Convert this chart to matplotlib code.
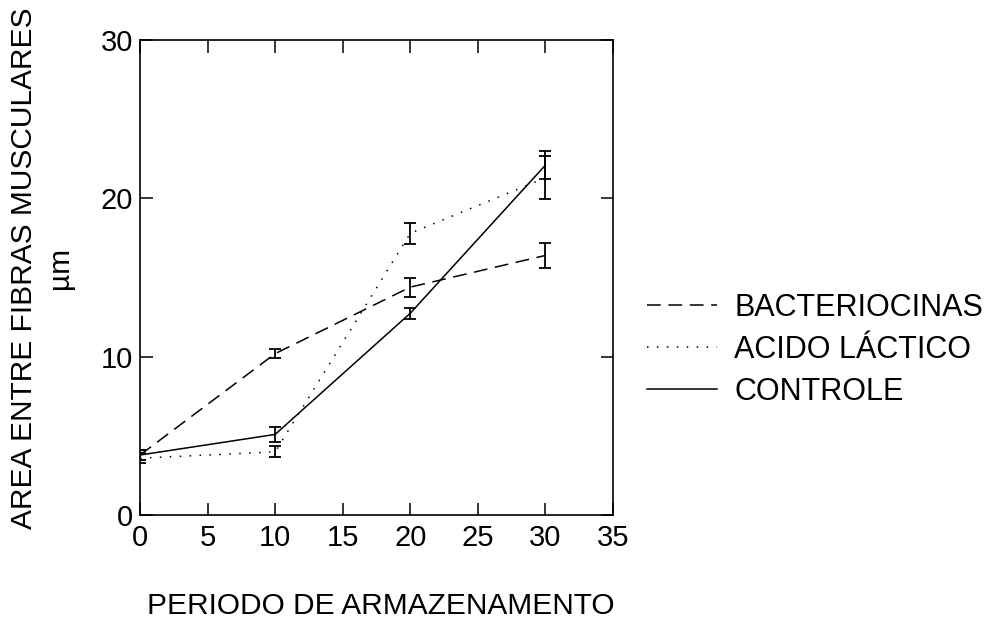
import numpy as np
import matplotlib.pyplot as plt

plt.rcParams['font.family'] = ['Liberation Sans', 'DejaVu Sans']

# storage period (days)
dias = [0, 10, 20, 30]

# area between muscle fibres (um), mean and error
bacteriocinas = [3.8, 10.2, 14.4, 16.4]
bacteriocinas_err = [0.3, 0.3, 0.6, 0.8]
acido_lactico = [3.6, 4.0, 17.8, 21.3]
acido_lactico_err = [0.3, 0.35, 0.65, 1.35]
controle = [3.8, 5.1, 12.75, 22.1]
controle_err = [0.3, 0.45, 0.35, 0.9]

labels = ['BACTERIOCINAS', 'ACIDO LÁCTICO', 'CONTROLE']

fig = plt.figure(figsize=(9.88, 6.26), dpi=100)
ax = fig.add_axes([0.1417, 0.177, 0.4787, 0.759])

styles = [(0, (9, 5)), (0, (1, 5.5)), '-']
series = [(bacteriocinas, bacteriocinas_err), (acido_lactico, acido_lactico_err),
          (controle, controle_err)]

handles = []
for (vals, err), ls, lab in zip(series, styles, labels):
    ax.errorbar(dias, vals, yerr=err, fmt='none', ecolor='black',
                elinewidth=1.3, capsize=4.5, capthick=1.3)
    h, = ax.plot(dias, vals, color='black', linestyle=ls, linewidth=1.1, label=lab)
    handles.append(h)

ax.set_xlim(0, 35)
ax.set_ylim(0, 30)
ax.set_xticks(np.arange(0, 36, 5))
ax.set_yticks([0, 10, 20, 30])
ax.tick_params(direction='in', length=9, width=1.1, top=True, right=True,
               labelsize=21)
ax.tick_params(axis='x', pad=6)
ax.tick_params(axis='y', pad=5)
for s in ax.spines.values():
    s.set_linewidth(1.2)

fig.text(42 / 988, 1 - 268 / 626, 'AREA ENTRE FIBRAS MUSCULARES\nµm',
         rotation=90, ha='center', va='center', multialignment='center',
         fontsize=21.5, linespacing=1.35)
fig.text(381 / 988, 1 - 606 / 626, 'PERIODO DE ARMAZENAMENTO',
         ha='center', va='center', fontsize=21.5)

fig.legend(handles=handles, loc='center left', bbox_to_anchor=(0.655, 0.441),
           frameon=False, fontsize=22, handlelength=2.3, handletextpad=0.55,
           labelspacing=0.4, borderaxespad=0, borderpad=0)

fig.savefig('out.png', dpi=100)
